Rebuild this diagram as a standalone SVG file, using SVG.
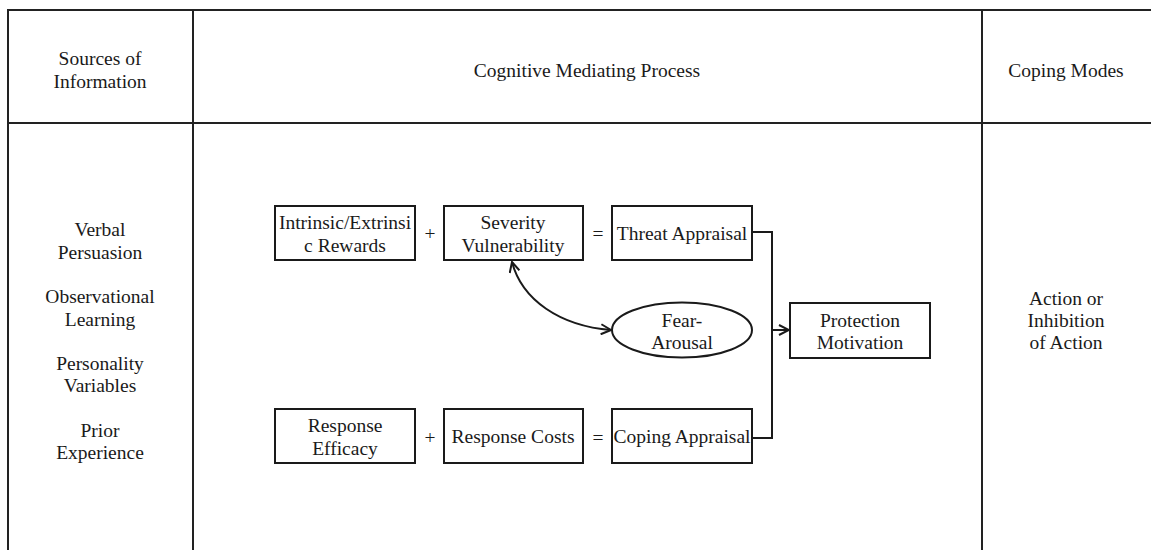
<svg xmlns="http://www.w3.org/2000/svg" width="1151" height="550" viewBox="0 0 1151 550">
<style>
text{font-family:"Liberation Serif","Times New Roman",serif;font-size:19.5px;fill:#1a1a1a;text-anchor:middle;dominant-baseline:central}
.grid{stroke:#222;stroke-width:2;fill:none}
.box{fill:#fff;stroke:#1a1a1a;stroke-width:2}
.conn{fill:none;stroke:#1a1a1a;stroke-width:2}
</style>
<defs>
<marker id="arr" viewBox="0 0 12 12" refX="11" refY="6" markerWidth="12" markerHeight="12" markerUnits="userSpaceOnUse" orient="auto-start-reverse">
<path d="M1,1 L11,6 L1,11" fill="none" stroke="#1a1a1a" stroke-width="2"/>
</marker>
</defs>
<rect width="1151" height="550" fill="#fff"/>
<g id="table">
<path class="grid" d="M8,550 V10 H1151 M8,123 H1151 M193,10 V550 M982,10 V550"/>
<text x="100" y="58">Sources of</text>
<text x="100" y="81">Information</text>
<text x="587" y="70">Cognitive Mediating Process</text>
<text x="1066" y="70">Coping Modes</text>
</g>
<g id="sources">
<text x="100" y="229">Verbal</text>
<text x="100" y="252">Persuasion</text>
<text x="100" y="296">Observational</text>
<text x="100" y="319">Learning</text>
<text x="100" y="363">Personality</text>
<text x="100" y="385">Variables</text>
<text x="100" y="430">Prior</text>
<text x="100" y="452">Experience</text>
</g>
<g id="coping-modes">
<text x="1066" y="298">Action or</text>
<text x="1066" y="320">Inhibition</text>
<text x="1066" y="342">of Action</text>
</g>
<g id="connectors">
<path class="conn" d="M752,232 H772 V438 H752"/>
<path class="conn" d="M772,330 H789" marker-end="url(#arr)"/>
<path class="conn" d="M512,262 C522,300 560,326 611,330" marker-start="url(#arr)" marker-end="url(#arr)"/>
</g>
<g id="ops">
<text x="430" y="233">+</text>
<text x="598" y="233">=</text>
<text x="430" y="437">+</text>
<text x="598" y="437">=</text>
</g>
<g id="rewards">
<rect class="box" x="275" y="206" width="140" height="54"/>
<text x="345" y="222">Intrinsic/Extrinsi</text>
<text x="345" y="245">c Rewards</text>
</g>
<g id="severity">
<rect class="box" x="444" y="206" width="139" height="54"/>
<text x="513" y="222">Severity</text>
<text x="513" y="245">Vulnerability</text>
</g>
<g id="threat">
<rect class="box" x="612" y="206" width="140" height="54"/>
<text x="682" y="233">Threat Appraisal</text>
</g>
<g id="efficacy">
<rect class="box" x="275" y="409" width="140" height="54"/>
<text x="345" y="425">Response</text>
<text x="345" y="448">Efficacy</text>
</g>
<g id="costs">
<rect class="box" x="444" y="409" width="139" height="54"/>
<text x="513" y="436">Response Costs</text>
</g>
<g id="coping">
<rect class="box" x="612" y="409" width="140" height="54"/>
<text x="682" y="436">Coping Appraisal</text>
</g>
<g id="fear">
<ellipse class="box" cx="682" cy="330" rx="70" ry="27.5"/>
<text x="682" y="320">Fear-</text>
<text x="682" y="342">Arousal</text>
</g>
<g id="protection">
<rect class="box" x="790" y="303" width="140" height="55"/>
<text x="860" y="320">Protection</text>
<text x="860" y="342">Motivation</text>
</g>
</svg>
